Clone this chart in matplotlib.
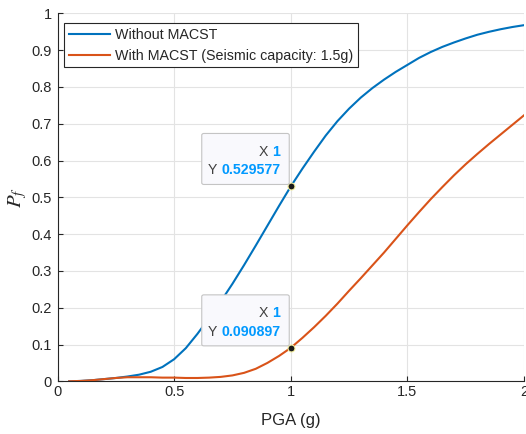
"""
Seismic fragility curves with and without MACST, with data tips at PGA = 1 g.
"""

import matplotlib
matplotlib.use('Agg')
import matplotlib.pyplot as plt
from matplotlib.patches import FancyBboxPatch
from matplotlib.ticker import FuncFormatter

plt.rcParams['font.family'] = ['Liberation Sans', 'DejaVu Sans']
plt.rcParams['mathtext.fontset'] = 'stix'

# PGA levels (g)
pga = [0.05, 0.10, 0.15, 0.20, 0.25, 0.30, 0.35, 0.40, 0.45, 0.50,
       0.55, 0.60, 0.65, 0.70, 0.75, 0.80, 0.85, 0.90, 0.95, 1.00,
       1.05, 1.10, 1.15, 1.20, 1.25, 1.30, 1.35, 1.40, 1.45, 1.50,
       1.55, 1.60, 1.65, 1.70, 1.75, 1.80, 1.85, 1.90, 1.95, 2.00]

# probability of failure, no MACST
pf_without = [0.000, 0.001, 0.003, 0.006, 0.009, 0.013, 0.018, 0.026, 0.039, 0.060,
              0.090, 0.129, 0.172, 0.217, 0.265, 0.316, 0.369, 0.423, 0.477, 0.529577,
              0.578, 0.624, 0.668, 0.707, 0.741, 0.771, 0.797, 0.820, 0.841, 0.860,
              0.879, 0.895, 0.909, 0.921, 0.932, 0.942, 0.950, 0.957, 0.963, 0.968]

# probability of failure, with MACST (capacity 1.5 g)
pf_with = [0.000, 0.001, 0.003, 0.006, 0.009, 0.011, 0.011, 0.011, 0.010, 0.010,
           0.009, 0.009, 0.010, 0.012, 0.016, 0.023, 0.034, 0.050, 0.069, 0.090897,
           0.118, 0.147, 0.178, 0.211, 0.246, 0.280, 0.315, 0.350, 0.387, 0.424,
           0.460, 0.495, 0.528, 0.560, 0.590, 0.618, 0.645, 0.671, 0.697, 0.723]

labels = ['Without MACST', 'With MACST (Seismic capacity: 1.5g)']
colors = ['#0072BD', '#D95319']

# data tips
tip_x = 1.0
tip_y = [0.529577, 0.090897]

W, H = 526, 434
fig = plt.figure(figsize=(W / 100, H / 100), dpi=100)
ax = fig.add_axes([57.5 / W, 1 - 381.3 / H, 466.5 / W, 367.9 / H])

ax.plot(pga, pf_without, color=colors[0], lw=1.5, label=labels[0], zorder=3)
ax.plot(pga, pf_with, color=colors[1], lw=1.5, label=labels[1], zorder=3)

ax.set_xlim(0, 2)
ax.set_ylim(0, 1)
ax.set_xticks([0, 0.5, 1, 1.5, 2])
ax.set_yticks([i / 10 for i in range(11)])
fmt = FuncFormatter(lambda v, _: f'{v:g}')
ax.xaxis.set_major_formatter(fmt)
ax.yaxis.set_major_formatter(fmt)

ax.grid(True, color='#e3e3e3', lw=0.8, zorder=0)
ax.set_axisbelow(True)
for side in ['top', 'right']:
    ax.spines[side].set_visible(False)
for side in ['left', 'bottom']:
    ax.spines[side].set_color('#262626')
    ax.spines[side].set_linewidth(0.8)
ax.tick_params(direction='in', length=3.6, width=0.8, color='#262626',
               labelcolor='#262626', labelsize=10.5)
ax.tick_params(axis='x', pad=3)
ax.tick_params(axis='y', pad=4)

ax.set_xlabel('PGA (g)', fontsize=12, color='#262626', labelpad=10)
ax.set_ylabel('$P_f$', fontsize=15, color='#262626', labelpad=2)

leg = ax.legend(loc='upper left', bbox_to_anchor=(6.8 / 466.5, 1 - 9.9 / 367.9),
                borderaxespad=0, fontsize=10.3, fancybox=False, framealpha=1,
                edgecolor='#262626', handlelength=2.9, handletextpad=0.35,
                borderpad=0.3, labelspacing=0.5)
leg.get_frame().set_linewidth(0.8)
for t in leg.get_texts():
    t.set_color('#262626')

fig.canvas.draw()
renderer = fig.canvas.get_renderer()
to_fig = fig.transFigure.inverted()


def px(x, y):
    return to_fig.transform((x, y))


# data tip boxes sit above-left of the marked point
for y in tip_y:
    ax.plot(tip_x, y, 'o', ms=5, mfc='#1a1a1a', mec='#f5f0a0', mew=0.8,
            zorder=6, clip_on=False)
    dx, dy = ax.transData.transform((tip_x, y))
    x0, x1 = dx - 89, dx - 1.5
    y0, y1 = dy + 2, dy + 53
    (fx0, fy0), (fx1, fy1) = px(x0, y0), px(x1, y1)
    box = FancyBboxPatch((fx0, fy0), fx1 - fx0, fy1 - fy0,
                         boxstyle='round,pad=0,rounding_size=0.004',
                         transform=fig.transFigure, facecolor='#f9f9fd',
                         edgecolor='#c4c4c4', lw=0.8, zorder=7)
    fig.patches.append(box)
    rows = [('X', f'{tip_x:g}', y1 - 22.4), ('Y', f'{y:g}', y1 - 41)]
    for name, val, base in rows:
        vx, vy = px(x1 - 9, base)
        vt = fig.text(vx, vy, val, ha='right', va='baseline', fontsize=10.2,
                      fontweight='bold', color='#0099ff', zorder=8)
        ext = vt.get_window_extent(renderer)
        lx, ly = px(ext.x0 - 4, base)
        fig.text(lx, ly, name, ha='right', va='baseline', fontsize=10.2,
                 color='#404040', zorder=8)

fig.savefig('out.png', dpi=100)
